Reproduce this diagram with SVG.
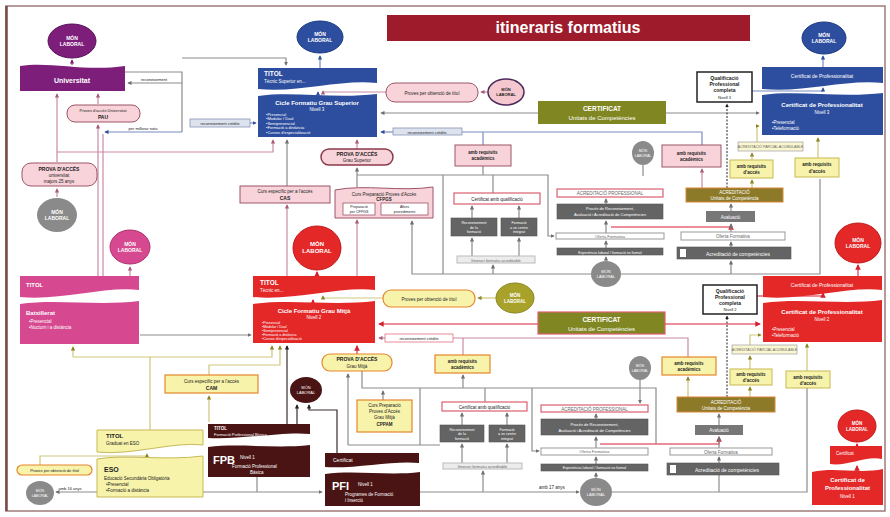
<svg xmlns="http://www.w3.org/2000/svg" width="890" height="517" viewBox="0 0 890 517">
<defs>
<style>
text{font-family:"Liberation Sans",Arial,sans-serif}
.c{text-anchor:middle}
.w{fill:#fff}
.k{fill:#222}
.g{fill:#666}
.b{font-weight:bold}
.s35{font-size:3.6px}
.s4{font-size:4px}
.s45{font-size:4.5px}
.s5{font-size:5px}
.s6{font-size:6px}
.s65{font-size:6.5px}
.s7{font-size:7px}
.lg{fill:none;stroke:#8c8c8c;stroke-width:1.2}
.lp{fill:none;stroke:#c98aa6;stroke-width:1.2}
.lo{fill:none;stroke:#cfc77a;stroke-width:1.2}
.lr{fill:none;stroke:#e66a78;stroke-width:1.6}
.lb{fill:none;stroke:#7a8cc0;stroke-width:1.2}
.lu{fill:none;stroke:#8a3a88;stroke-width:1.2}
.lk{fill:none;stroke:#3a2a2a;stroke-width:1.2}
.ld{fill:none;stroke:#222;stroke-width:1;stroke-dasharray:2 1.5}
.pk{fill:#f8d3d9;stroke:#9c5468;stroke-width:1}
.yl{fill:#f7f3aa;stroke:#c7b955;stroke-width:1}
.yo{fill:#f7f3aa;stroke:#e5862b;stroke-width:1.2}
.dg{fill:#646464;stroke:#555;stroke-width:.6}
.wb{fill:#fff;stroke:#999;stroke-width:1}
.lbx{fill:#ececec;stroke:#bbb;stroke-width:1}
.po{fill:#fff;stroke:#d9606e;stroke-width:1.2}
.ac{fill:#8c7a28;stroke:#d9863a;stroke-width:1}
.qp{fill:#fff;stroke:#222;stroke-width:1.5}
.rc{fill:#dde3ee;stroke:#8893b5;stroke-width:.8}
.pu{fill:#7d1e7b}
.bl{fill:#2d4e9e}
.mg{fill:#d6488f}
.rd{fill:#e42828}
.br{fill:#4a1414}
.gy{fill:#8a8a8a}
.ye{fill:#f7f3aa;stroke:#c7b955;stroke-width:1}
</style>
<marker id="mg" viewBox="0 0 6 6" refX="5" refY="3" markerWidth="3.5" markerHeight="3.5" orient="auto"><path d="M0,0L6,3L0,6z" fill="#707070"/></marker>
<marker id="mp" viewBox="0 0 6 6" refX="5" refY="3" markerWidth="3.5" markerHeight="3.5" orient="auto"><path d="M0,0L6,3L0,6z" fill="#a85a7a"/></marker>
<marker id="mb" viewBox="0 0 6 6" refX="5" refY="3" markerWidth="3.5" markerHeight="3.5" orient="auto"><path d="M0,0L6,3L0,6z" fill="#2d4e9e"/></marker>
<marker id="mr" viewBox="0 0 6 6" refX="5" refY="3" markerWidth="3.5" markerHeight="3.5" orient="auto"><path d="M0,0L6,3L0,6z" fill="#d62030"/></marker>
<marker id="mo" viewBox="0 0 6 6" refX="5" refY="3" markerWidth="3.5" markerHeight="3.5" orient="auto"><path d="M0,0L6,3L0,6z" fill="#8a8420"/></marker>
<marker id="mu" viewBox="0 0 6 6" refX="5" refY="3" markerWidth="3.5" markerHeight="3.5" orient="auto"><path d="M0,0L6,3L0,6z" fill="#7d1e7b"/></marker>
<marker id="mk" viewBox="0 0 6 6" refX="5" refY="3" markerWidth="3.5" markerHeight="3.5" orient="auto"><path d="M0,0L6,3L0,6z" fill="#222"/></marker>
</defs>
<rect width="890" height="517" fill="#fff"/>
<rect x="6" y="6" width="879" height="505" fill="none" stroke="#a07a7a" stroke-width="1.5"/>
<line x1="6.5" y1="6" x2="6.5" y2="511" stroke="#7a4a4a" stroke-width="2.5"/>

<g id="connectors">
<path class="lu" d="M72,65 V60" marker-end="url(#mu)"/>
<path class="lp" d="M57,162 V94" marker-end="url(#mp)"/>
<path class="lp" d="M98,104 V94" marker-end="url(#mp)"/>
<path class="lp" d="M98,276 V125" marker-end="url(#mp)"/>
<path class="lp" d="M103,276 V134"/>
<path class="lb" d="M182,132 H105" marker-end="url(#mb)"/>
<path class="lp" d="M57,197 V189" marker-end="url(#mp)"/>
<path class="lp" d="M57,152 H273 V140" marker-end="url(#mp)"/>
<path class="lp" d="M130,276 V267" marker-end="url(#mp)"/>
<path class="lg" d="M125,72 H182 V132"/>
<path class="lg" d="M182,58 H286 V65" marker-end="url(#mg)"/>
<path class="lg" d="M182,83 H128" marker-end="url(#mg)"/>
<path class="lb" d="M250,123 H256" marker-end="url(#mb)"/>
<path class="lb" d="M320,68 V56" marker-end="url(#mb)"/>
<path class="lb" d="M318,96 V92" marker-end="url(#mb)"/>
<path class="lp" d="M386,92 H323 V91" marker-end="url(#mp)"/>
<path class="lp" d="M488,92 H481" marker-end="url(#mp)"/>
<path class="lg" d="M538,113 H381" marker-end="url(#mg)"/>
<path class="lg" d="M666,113 H759" marker-end="url(#mg)"/>
<path class="lb" d="M702,145 V132 H462"/>
<path class="lb" d="M393,132 H381" marker-end="url(#mb)"/>
<path class="lb" d="M483,132 V145"/>
<path class="lp" d="M357,149 V140" marker-end="url(#mp)"/>
<path class="lg" d="M357,187 V168" marker-end="url(#mg)"/>
<path class="lg" d="M357,175 H548 V236 H554" marker-end="url(#mg)"/>
<path class="lg" d="M483,166 V175"/>
<path class="lg" d="M493,193 V175"/>
<path class="lg" d="M287,186 V140" marker-end="url(#mg)"/>
<path class="lp" d="M287,276 V205" marker-end="url(#mp)"/>
<path class="lp" d="M357,276 V220" marker-end="url(#mp)"/>
<path class="lg" d="M820,179 V274 H412 V221" marker-end="url(#mg)"/>
<path class="lg" d="M443,274 V175"/>
<path class="lg" d="M493,274 V265" marker-end="url(#mg)"/>
<path class="lg" d="M472,256 V238" marker-end="url(#mg)"/>
<path class="lg" d="M519,256 V238" marker-end="url(#mg)"/>
<path class="lg" d="M472,218 V206" marker-end="url(#mg)"/>
<path class="lg" d="M519,218 V206" marker-end="url(#mg)"/>
<path class="lg" d="M606,261 V257" marker-end="url(#mg)"/>
<path class="lg" d="M606,248 V241" marker-end="url(#mg)"/>
<path class="lg" d="M606,233 V221" marker-end="url(#mg)"/>
<path class="lg" d="M606,204 V199" marker-end="url(#mg)"/>
<path class="lr" d="M611,227 H731 V225" marker-end="url(#mr)"/>
<path class="lg" d="M731,247 V242" marker-end="url(#mg)"/>
<path class="lg" d="M731,232 V224" marker-end="url(#mg)"/>
<path class="lg" d="M731,211 V204" marker-end="url(#mg)"/>
<path class="lg" d="M731,274 V261" marker-end="url(#mg)"/>
<path class="lp" d="M702,188 V169" marker-end="url(#mp)"/>
<path class="ld" d="M727,188 V104" marker-end="url(#mk)"/>
<path class="lo" d="M752,188 V180" marker-end="url(#mo)"/>
<path class="lo" d="M752,160 V153" marker-end="url(#mo)"/>
<path class="lo" d="M757,142 V126 H759" marker-end="url(#mo)"/>
<path class="lo" d="M818,158 V138" marker-end="url(#mo)"/>
<path class="lb" d="M752,91 H823 V88" marker-end="url(#mb)"/>
<path class="lb" d="M823,67 V56" marker-end="url(#mb)"/>
<path class="lg" d="M643,165 V176"/>

<path class="lr" d="M317,276 V272" marker-end="url(#mr)"/>
<path class="lr" d="M313,304 V300" marker-end="url(#mr)"/>
<path class="lo" d="M383,298 H323 V296" marker-end="url(#mo)"/>
<path class="lo" d="M496,298 H478" marker-end="url(#mo)"/>
<path class="lr" d="M538,324 H379" marker-end="url(#mr)"/>
<path class="lr" d="M665,324 H760" marker-end="url(#mr)"/>
<path class="lp" d="M688,357 V338 H453"/>
<path class="lp" d="M385,338 H379" marker-end="url(#mp)"/>
<path class="lp" d="M463,355 V338"/>
<path class="lr" d="M357,354 V346" marker-end="url(#mr)"/>
<path class="lg" d="M362,371 V388 H656 V444"/>
<path class="lg" d="M383,400 V391" marker-end="url(#mg)"/>
<path class="lg" d="M348,445 V374" marker-end="url(#mg)"/>
<path class="lg" d="M348,445 H440"/>
<path class="lg" d="M420,388 V445"/>
<path class="lg" d="M463,388 V375" marker-end="url(#mg)"/>
<path class="lg" d="M485,402 V388"/>
<path class="lg" d="M483,492 V471" marker-end="url(#mg)"/>
<path class="lg" d="M462,463 V444" marker-end="url(#mg)"/>
<path class="lg" d="M507,463 V444" marker-end="url(#mg)"/>
<path class="lg" d="M462,425 V413" marker-end="url(#mg)"/>
<path class="lg" d="M507,425 V413" marker-end="url(#mg)"/>
<path class="lg" d="M532,388 V451 H539" marker-end="url(#mg)"/>
<path class="lg" d="M596,478 V473" marker-end="url(#mg)"/>
<path class="lg" d="M596,464 V457" marker-end="url(#mg)"/>
<path class="lg" d="M596,448 V437" marker-end="url(#mg)"/>
<path class="lg" d="M596,419 V414" marker-end="url(#mg)"/>
<path class="lg" d="M640,380 V403" marker-end="url(#mg)"/>
<path class="lr" d="M600,444 H719 V437" marker-end="url(#mr)"/>
<path class="lg" d="M719,463 V457" marker-end="url(#mg)"/>
<path class="lg" d="M719,448 V437" marker-end="url(#mg)"/>
<path class="lg" d="M719,425 V414" marker-end="url(#mg)"/>
<path class="lo" d="M688,397 V377" marker-end="url(#mo)"/>
<path class="ld" d="M727,397 V316" marker-end="url(#mk)"/>
<path class="lo" d="M750,397 V387" marker-end="url(#mo)"/>
<path class="lo" d="M750,369 V356" marker-end="url(#mo)"/>
<path class="lo" d="M750,345 V335 H761" marker-end="url(#mo)"/>
<path class="lo" d="M807,371 V344" marker-end="url(#mo)"/>
<path class="lg" d="M807,388 V492 H612"/>
<path class="lg" d="M420,492 H579" marker-end="url(#mg)"/>
<path class="lg" d="M719,475 V492"/>
<path class="lr" d="M757,296 H823 V293" marker-end="url(#mr)"/>
<path class="lr" d="M858,276 V265" marker-end="url(#mr)"/>
<path class="lr" d="M857,446 V444" marker-end="url(#mr)"/>
<path class="lr" d="M857,472 V466" marker-end="url(#mr)"/>

<path class="lg" d="M140,335 H251" marker-end="url(#mg)"/>
<path class="lo" d="M73,357 V347" marker-end="url(#mo)"/>
<path class="lo" d="M73,357 H272 V346" marker-end="url(#mo)"/>
<path class="lo" d="M150,357 V430"/>
<path class="lo" d="M209,375 V365 H280 V346" marker-end="url(#mo)"/>
<path class="lo" d="M209,422 V396" marker-end="url(#mo)"/>
<path class="lk" d="M287,424 V346" marker-end="url(#mk)"/>
<path class="lk" d="M297,424 V405" marker-end="url(#mk)"/>
<path class="lk" d="M337,453 V410 H309 V405" marker-end="url(#mk)"/>
<path class="lo" d="M40,465 V456 H147 V454" marker-end="url(#mo)"/>
<path class="lg" d="M97,492 H56" marker-end="url(#mg)"/>
<path class="lg" d="M203,492 H322" marker-end="url(#mg)"/>
<path class="lg" d="M257,477 V492"/>
</g>

<g id="title"><rect x="387" y="15" width="363" height="26" fill="#9e1b2b"/><text x="568" y="33" class="c w b" font-size="16">itineraris formatius</text></g>

<g id="mon-universitat"><ellipse cx="72" cy="41" rx="24" ry="17" class="pu" stroke="#5a1258"/><text x="72" y="40" class="c w b s5">MÓN</text><text x="72" y="46" class="c w b s5">LABORAL</text></g>
<g id="universitat"><path d="M20,66 C50,61 85,72 125,66 V91 H20 Z" class="pu"/><text x="72" y="83" class="c w b s7">Universitat</text></g>
<g id="pau"><rect x="67" y="105" width="73" height="17" rx="8" class="pk"/><text x="103" y="112" class="c k s4">Proves d'accés Universitat</text><text x="103" y="119" class="c k b s5">PAU</text></g>
<g id="lbl-reconeixement"><text x="154" y="81" class="c k s4">reconeixement</text></g>
<g id="lbl-millorar"><text x="143" y="130" class="c k s4">per millorar nota</text></g>
<g id="recon-univ"><rect x="190" y="119" width="60" height="8" class="rc"/><text x="220" y="125" class="c k s4">reconeixement crèdits</text></g>
<g id="prova-25"><rect x="22" y="163" width="75" height="23" rx="9" class="pk"/><text x="59" y="171" class="c k b s5">PROVA D'ACCÉS</text><text x="59" y="177" class="c k s45">universitat</text><text x="59" y="183" class="c k s45">majors 25 anys</text></g>
<g id="mon-25"><ellipse cx="57" cy="215" rx="20" ry="17" class="gy"/><text x="57" y="214" class="c w b s5">MÓN</text><text x="57" y="220" class="c w b s5">LABORAL</text></g>
<g id="mon-batx"><ellipse cx="130" cy="247" rx="20" ry="17" class="mg" stroke="#b0306e"/><text x="130" y="246" class="c w b s5">MÓN</text><text x="130" y="252" class="c w b s5">LABORAL</text></g>
<g id="batxillerat"><path d="M20,276 H139 V290 C105,286 60,301 20,297 Z" class="mg"/><text x="26" y="287" class="w b s6">TITOL</text><path d="M20,304 C55,299 100,306 139,301 V344 H20 Z" class="mg"/><text x="26" y="315" class="w b s6">Batxillerat</text><text x="29" y="323" class="w s45">•Presencial</text><text x="29" y="329" class="w s45">•Nocturn i a distància</text></g>

<g id="mon-gs"><ellipse cx="320" cy="37" rx="23" ry="16" class="bl" stroke="#1d3a80"/><text x="320" y="36" class="c w b s5">MÓN</text><text x="320" y="42" class="c w b s5">LABORAL</text></g>
<g id="cicle-gs"><path d="M258,68 H377 V83 C340,79 300,93 258,89 Z" class="bl"/><text x="264" y="76" class="w b s65">TITOL</text><text x="264" y="83" class="w s45">Tècnic Superior en...</text><path d="M258,96 C292,91 335,99 377,94 V137 H258 Z" class="bl"/><text x="317" y="105" class="c w b s6">Cicle Formatiu Grau Superior</text><text x="317" y="110.5" class="c w s45">Nivell 3</text><text x="266" y="115.5" class="w s4">•Presencial</text><text x="266" y="120" class="w s4">•Modular / Dual</text><text x="266" y="124.5" class="w s4">•Semipresencial</text><text x="266" y="129" class="w s4">•Formació a distància</text><text x="266" y="133.5" class="w s4">•Cursos d'especialització</text></g>
<g id="proves-gs"><rect x="386" y="83" width="92" height="19" rx="9" class="pk"/><text x="432" y="94.5" class="c k s45">Proves per obtenció de títol</text></g>
<g id="mon-proves-gs"><ellipse cx="506" cy="92" rx="18" ry="13" fill="#f5c8d0" stroke="#4a2a5a" stroke-width="1.5"/><text x="506" y="91" class="c k b s4">MÓN</text><text x="506" y="96" class="c k b s4">LABORAL</text></g>
<g id="certificat-gs"><rect x="538" y="101" width="128" height="23" fill="#7f8622"/><text x="602" y="111" class="c w b s65">CERTIFICAT</text><text x="602" y="120" class="c w s6">Unitats de Competències</text></g>
<g id="recon-gs"><rect x="393" y="128" width="69" height="7" class="rc"/><text x="427" y="133.5" class="c k s4">reconeixement crèdits</text></g>
<g id="prova-gs"><rect x="321" y="149" width="72" height="16" rx="8" fill="#f8d3d9" stroke="#8a3a4a" stroke-width="1.5"/><text x="357" y="156" class="c k b s5">PROVA D'ACCÉS</text><text x="357" y="162" class="c k s45">Grau Superior</text></g>
<g id="req-acad-gs1"><rect x="455" y="145" width="56" height="21" class="pk"/><text x="483" y="154" class="c k b s45">amb requisits</text><text x="483" y="160" class="c k b s45">acadèmics</text></g>
<g id="mon-small-gs"><ellipse cx="643" cy="153" rx="11" ry="12" class="gy"/><text x="643" y="152" class="c w s35">MÓN</text><text x="643" y="157" class="c w s35">LABORAL</text></g>
<g id="req-acad-gs2"><rect x="662" y="145" width="59" height="22" class="pk"/><text x="691.5" y="154.5" class="c k b s45">amb requisits</text><text x="691.5" y="160.5" class="c k b s45">acadèmics</text></g>
<g id="qualif-n3"><rect x="697" y="72" width="55" height="30" class="qp"/><text x="724.5" y="80" class="c k b s5">Qualificació</text><text x="724.5" y="86" class="c k b s5">Professional</text><text x="724.5" y="92" class="c k b s5">completa</text><text x="724.5" y="99" class="c k s4">Nivell 3</text></g>
<g id="mon-cp3"><ellipse cx="824" cy="38" rx="22" ry="16" class="bl" stroke="#1d3a80"/><text x="824" y="37" class="c w b s5">MÓN</text><text x="824" y="43" class="c w b s5">LABORAL</text></g>
<g id="cp-n3"><path d="M762,67 H883 V83 C845,79 805,93 762,89 Z" class="bl"/><text x="822" y="78" class="c w s5">Certificat de Professionalitat</text><path d="M762,95 C797,90 842,98 883,93 V135 H762 Z" class="bl"/><text x="822" y="107" class="c w b s6">Certificat de Professionalitat</text><text x="822" y="114" class="c w s45">Nivell 3</text><text x="772" y="124" class="w s45">•Presencial</text><text x="772" y="130" class="w s45">•Teleformació</text></g>
<g id="parcial-n3"><rect x="738" y="142" width="65" height="9" fill="#f9f6d0" stroke="#aaa" stroke-width=".8"/><text x="770.5" y="148.3" class="c g s35">ACREDITACIÓ PARCIAL ACUMULABLE</text></g>
<g id="req-acces-n3a"><rect x="730" y="160" width="43" height="18" class="ye"/><text x="751.5" y="167.5" class="c k b s45">amb requisits</text><text x="751.5" y="174" class="c k b s45">d'accés</text></g>
<g id="req-acces-n3b"><rect x="795" y="158" width="44" height="19" class="ye"/><text x="817" y="166" class="c k b s45">amb requisits</text><text x="817" y="172.5" class="c k b s45">d'accés</text></g>

<g id="cas"><rect x="240" y="186" width="90" height="17" class="pk"/><text x="285" y="193" class="c k s45">Curs específic per a l'accés</text><text x="285" y="200" class="c k b s5">CAS</text></g>
<g id="cfpgs"><path d="M335,190 C365,184 400,192 433,187 V218 H335 Z" class="pk"/><text x="384" y="196" class="c k s45">Curs Preparació Proves d'Accés</text><text x="384" y="201" class="c k b s45">CFPGS</text><rect x="343" y="203" width="32" height="12" fill="#fff" stroke="#9c5468" stroke-width=".8"/><text x="359" y="208" class="c k s35">Preparació</text><text x="359" y="213" class="c k s35">per CFPGS</text><rect x="381" y="203" width="47" height="12" fill="#fff" stroke="#9c5468" stroke-width=".8"/><text x="404.5" y="208" class="c k s35">Altres</text><text x="404.5" y="213" class="c k s35">procediments</text></g>
<g id="cert-qual-gs"><rect x="454" y="193" width="86" height="11" class="po"/><text x="497" y="200.5" class="c k s45">Certificat amb qualificació</text></g>
<g id="recon-form-gs"><rect x="451" y="218" width="46" height="18" class="dg"/><text x="474" y="224" class="c w s35">Reconeixement</text><text x="474" y="228.5" class="c w s35">de la</text><text x="474" y="233" class="c w s35">formació</text></g>
<g id="centre-gs"><rect x="501" y="218" width="36" height="18" class="dg"/><text x="519" y="224" class="c w s35">Formació</text><text x="519" y="228.5" class="c w s35">a un centre</text><text x="519" y="233" class="c w s35">integrat</text></g>
<g id="itinerari-gs"><rect x="457" y="256" width="78" height="7" class="lbx"/><text x="496" y="261.5" class="c g s4">Itinerari formatiu acreditable</text></g>
<g id="acred-prof-gs"><rect x="557" y="189" width="106" height="8" class="po"/><text x="610" y="195" class="c g s45">ACREDITACIÓ PROFESSIONAL</text></g>
<g id="proces-gs"><rect x="557" y="204" width="106" height="15" class="dg"/><text x="610" y="210" class="c w s4">Procés de Reconeixement,</text><text x="610" y="216" class="c w s4">Avaluació i Acreditació de Competències</text></g>
<g id="oferta-gs"><rect x="556" y="233" width="108" height="6" class="wb"/><text x="610" y="238" class="c g s4">Oferta Formativa</text></g>
<g id="experiencia-gs"><rect x="557" y="248" width="106" height="7" class="dg"/><text x="610" y="253.5" class="c w s35">Experiència laboral / formació no formal</text></g>
<g id="mon-col-gs"><ellipse cx="606" cy="274" rx="15" ry="13" class="gy"/><text x="606" y="273" class="c w s4">MÓN</text><text x="606" y="278" class="c w s4">LABORAL</text></g>
<g id="acred-uc-gs"><rect x="686" y="188" width="97" height="14" class="ac"/><text x="734.5" y="194" class="c w s45">ACREDITACIÓ</text><text x="734.5" y="200" class="c w s45">Unitats de Competència</text></g>
<g id="avaluacio-gs"><rect x="706" y="211" width="49" height="11" fill="#777"/><text x="730.5" y="218.5" class="c w s45">Avaluació</text></g>
<g id="oferta2-gs"><rect x="681" y="232" width="104" height="8" class="wb"/><text x="733" y="238" class="c g s45">Oferta Formativa</text></g>
<g id="acred-comp-gs"><rect x="677" y="247" width="114" height="12" class="dg"/><rect x="680" y="249" width="6" height="8" fill="#fff"/><text x="738" y="255.5" class="c w s5">Acreditació de competències</text></g>

<g id="mon-gm"><ellipse cx="317" cy="248" rx="24" ry="22" class="rd" stroke="#c01818"/><text x="317" y="246" class="c w b s6">MÓN</text><text x="317" y="253" class="c w b s6">LABORAL</text></g>
<g id="cicle-gm"><path d="M253,276 H375 V290 C340,286 295,301 253,297 Z" class="rd"/><text x="260" y="285" class="w b s65">TITOL</text><text x="260" y="292" class="w s45">Tècnic en...</text><path d="M253,304 C290,299 335,306 375,301 V343 H253 Z" class="rd"/><text x="314" y="313" class="c w b s6">Cicle Formatiu Grau Mitjà</text><text x="314" y="318.5" class="c w s45">Nivell 2</text><text x="262" y="323.5" class="w s35">•Presencial</text><text x="262" y="327.5" class="w s35">•Modular / Dual</text><text x="262" y="331.5" class="w s35">•Semipresencial</text><text x="262" y="335.5" class="w s35">•Formació a distància</text><text x="262" y="339.5" class="w s35">•Cursos d'especialització</text></g>
<g id="proves-gm"><rect x="383" y="290" width="92" height="17" rx="8" class="yo"/><text x="429" y="300.5" class="c k s45">Proves per obtenció de títol</text></g>
<g id="mon-proves-gm"><ellipse cx="515" cy="298" rx="19" ry="15" fill="#a9a22a" stroke="#8a8420"/><text x="515" y="297" class="c w b s45">MÓN</text><text x="515" y="302.5" class="c w b s45">LABORAL</text></g>
<g id="certificat-gm"><rect x="538" y="312" width="127" height="22" fill="#7f8622" stroke="#e06070" stroke-width="1.2"/><text x="601.5" y="322" class="c w b s65">CERTIFICAT</text><text x="601.5" y="330.5" class="c w s6">Unitats de Competències</text></g>
<g id="recon-gm"><rect x="385" y="334" width="68" height="8" fill="#fff" stroke="#e07080" stroke-width=".8"/><text x="419" y="340" class="c k s4">reconeixement crèdits</text></g>
<g id="prova-gm"><rect x="322" y="354" width="70" height="17" rx="8" class="yo"/><text x="357" y="361" class="c k b s5">PROVA D'ACCÉS</text><text x="357" y="367.5" class="c k s45">Grau Mitjà</text></g>
<g id="req-acad-gm1"><rect x="435" y="355" width="55" height="18" class="yo"/><text x="462.5" y="362.5" class="c k b s45">amb requisits</text><text x="462.5" y="369" class="c k b s45">acadèmics</text></g>
<g id="mon-small-gm"><ellipse cx="640" cy="368" rx="11" ry="12" class="gy"/><text x="640" y="367" class="c w s35">MÓN</text><text x="640" y="372" class="c w s35">LABORAL</text></g>
<g id="req-acad-gm2"><rect x="662" y="357" width="54" height="18" class="yo"/><text x="689" y="364.5" class="c k b s45">amb requisits</text><text x="689" y="371" class="c k b s45">acadèmics</text></g>
<g id="qualif-n2"><rect x="703" y="285" width="54" height="29" class="qp"/><text x="730" y="292.5" class="c k b s5">Qualificació</text><text x="730" y="298.5" class="c k b s5">Professional</text><text x="730" y="304.5" class="c k b s5">completa</text><text x="730" y="311" class="c k s4">Nivell 2</text></g>
<g id="mon-cp2"><ellipse cx="858" cy="243" rx="23" ry="20" class="rd" stroke="#c01818"/><text x="858" y="242" class="c w b s5">MÓN</text><text x="858" y="248" class="c w b s5">LABORAL</text></g>
<g id="cp-n2"><path d="M763,276 H882 V290 C848,286 803,301 763,297 Z" class="rd"/><text x="822" y="287" class="c w s5">Certificat de Professionalitat</text><path d="M763,303 C800,298 845,305 882,300 V342 H763 Z" class="rd"/><text x="822" y="314" class="c w b s6">Certificat de Professionalitat</text><text x="822" y="321" class="c w s45">Nivell 2</text><text x="772" y="331" class="w s45">•Presencial</text><text x="772" y="337" class="w s45">•Teleformació</text></g>
<g id="parcial-n2"><rect x="732" y="345" width="65" height="9" fill="#f9f6d0" stroke="#aaa" stroke-width=".8"/><text x="764.5" y="351.3" class="c g s35">ACREDITACIÓ PARCIAL ACUMULABLE</text></g>
<g id="req-acces-n2a"><rect x="730" y="369" width="42" height="16" class="ye"/><text x="751" y="376" class="c k b s45">amb requisits</text><text x="751" y="382" class="c k b s45">d'accés</text></g>
<g id="req-acces-n2b"><rect x="786" y="371" width="44" height="17" class="ye"/><text x="808" y="378.5" class="c k b s45">amb requisits</text><text x="808" y="384.5" class="c k b s45">d'accés</text></g>

<g id="cam"><rect x="165" y="375" width="93" height="18" class="yo"/><text x="211.5" y="382.5" class="c k s45">Curs específic per a l'accés</text><text x="211.5" y="389.5" class="c k b s5">CAM</text></g>
<g id="mon-fpb"><ellipse cx="306" cy="390" rx="16" ry="13" class="br"/><text x="306" y="389" class="c w s4">MÓN</text><text x="306" y="394" class="c w s4">LABORAL</text></g>
<g id="cppam"><rect x="357" y="400" width="55" height="32" class="yo"/><text x="384.5" y="407" class="c k s45">Curs Preparació</text><text x="384.5" y="413" class="c k s45">Proves d'Accés</text><text x="384.5" y="419" class="c k s45">Grau Mitjà</text><text x="384.5" y="426" class="c k b s45">CPPAM</text></g>
<g id="cert-qual-gm"><rect x="442" y="402" width="85" height="9" class="po"/><text x="484.5" y="408.5" class="c k s45">Certificat amb qualificació</text></g>
<g id="recon-form-gm"><rect x="440" y="425" width="44" height="17" class="dg"/><text x="462" y="430.5" class="c w s35">Reconeixement</text><text x="462" y="435" class="c w s35">de la</text><text x="462" y="439.5" class="c w s35">formació</text></g>
<g id="centre-gm"><rect x="489" y="425" width="36" height="17" class="dg"/><text x="507" y="430.5" class="c w s35">Formació</text><text x="507" y="435" class="c w s35">a un centre</text><text x="507" y="439.5" class="c w s35">integrat</text></g>
<g id="itinerari-gm"><rect x="443" y="463" width="79" height="6" class="lbx"/><text x="482.5" y="467.8" class="c g s4">Itinerari formatiu acreditable</text></g>
<g id="acred-prof-gm"><rect x="541" y="405" width="107" height="7" class="po"/><text x="594.5" y="410.5" class="c g s45">ACREDITACIÓ PROFESSIONAL</text></g>
<g id="proces-gm"><rect x="541" y="419" width="107" height="16" class="dg"/><text x="594.5" y="425.5" class="c w s4">Procés de Reconeixement,</text><text x="594.5" y="431.5" class="c w s4">Avaluació i Acreditació de Competències</text></g>
<g id="oferta-gm"><rect x="541" y="448" width="107" height="7" class="wb"/><text x="594.5" y="453.3" class="c g s4">Oferta Formativa</text></g>
<g id="experiencia-gm"><rect x="541" y="464" width="107" height="7" class="dg"/><text x="594.5" y="469.3" class="c w s35">Experiència laboral / formació no formal</text></g>
<g id="mon-col-gm"><ellipse cx="596" cy="492" rx="16" ry="14" class="gy"/><text x="596" y="491" class="c w s4">MÓN</text><text x="596" y="496" class="c w s4">LABORAL</text></g>
<g id="lbl-17"><text x="552" y="489" class="c k s45">amb 17 anys</text></g>
<g id="acred-uc-gm"><rect x="677" y="397" width="98" height="15" class="ac"/><text x="726" y="403.5" class="c w s45">ACREDITACIÓ</text><text x="726" y="409.5" class="c w s45">Unitats de Competència</text></g>
<g id="avaluacio-gm"><rect x="695" y="425" width="48" height="10" fill="#777"/><text x="719" y="431.8" class="c w s45">Avaluació</text></g>
<g id="oferta2-gm"><rect x="670" y="448" width="102" height="7" class="wb"/><text x="721" y="453.5" class="c g s45">Oferta Formativa</text></g>
<g id="acred-comp-gm"><rect x="667" y="463" width="112" height="12" class="dg"/><rect x="670" y="465" width="6" height="8" fill="#fff"/><text x="727" y="471.5" class="c w s5">Acreditació de competències</text></g>
<g id="mon-cp1"><ellipse cx="857" cy="426" rx="19" ry="16" class="rd" stroke="#c01818"/><text x="857" y="425" class="c w b s45">MÓN</text><text x="857" y="431" class="c w b s45">LABORAL</text></g>
<g id="cp-n1"><path d="M830,446 H882 V459 C866,455 846,467 830,464 Z" class="rd"/><text x="836" y="455" class="w s45">Certificat</text><path d="M812,472 C835,467 860,474 883,469 V505 H812 Z" class="rd"/><text x="847.5" y="482" class="c w b s6">Certificat de</text><text x="847.5" y="490" class="c w b s6">Professionalitat</text><text x="847.5" y="498" class="c w s45">Nivell 1</text></g>

<g id="eso"><path d="M97,430 H203 V445 C175,441 130,456 97,452 Z" class="ye"/><text x="106" y="438" class="k b s6">TITOL</text><text x="106" y="445" class="k s45">Graduat en ESO</text><path d="M97,459 C125,454 165,461 203,456 V497 H97 Z" class="ye"/><text x="104" y="472" class="k b s7">ESO</text><text x="104" y="480" class="k s45">Educació Secundària Obligatòria</text><text x="106" y="486" class="k s45">•Presencial</text><text x="106" y="492" class="k s45">•Formació a distància</text></g>
<g id="proves-eso"><rect x="17" y="465" width="75" height="10" rx="5" class="yo"/><text x="54.5" y="471.5" class="c k s4">Proves per obtenció de títol</text></g>
<g id="mon-eso"><ellipse cx="40" cy="493" rx="14" ry="12" class="gy"/><text x="40" y="492" class="c w s35">MÓN</text><text x="40" y="497" class="c w s35">LABORAL</text></g>
<g id="lbl-16"><text x="70" y="490" class="c k s4">amb 16 anys</text></g>
<g id="fpb"><path d="M208,424 H310 V434 C285,431 240,440 208,438 Z" class="br"/><text x="214" y="430" class="w b s45">TITOL</text><text x="214" y="435.5" class="w s4">Formació Professional Bàsica</text><path d="M208,447 C240,443 275,449 310,445 V477 H208 Z" class="br"/><text x="213" y="464" class="w b" font-size="11">FPB</text><text x="240" y="459" class="w s45">Nivell 1</text><text x="232" y="468" class="w s45">Formació Professional</text><text x="250" y="474" class="w s45">Bàsica</text></g>
<g id="pfi"><path d="M325,453 H419 V463 C395,460 355,469 325,467 Z" class="br"/><text x="333" y="461.5" class="w s5">Certificat</text><path d="M325,474 C355,470 390,476 420,472 V506 H325 Z" class="br"/><text x="332" y="490" class="w b" font-size="11">PFI</text><text x="358" y="486" class="w s45">Nivell 1</text><text x="345" y="496" class="w s45">Programes de Formació</text><text x="345" y="502" class="w s45">i Inserció</text></g>
</svg>
